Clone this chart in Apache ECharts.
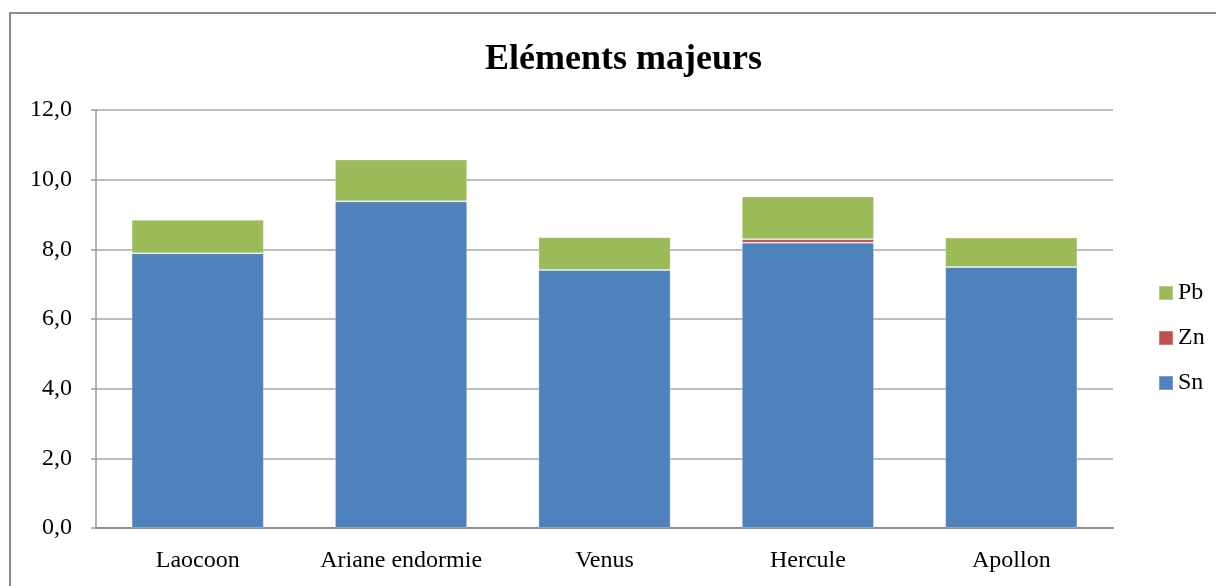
<!DOCTYPE html>
<html>
<head>
<meta charset="utf-8">
<script src="https://cdn.jsdelivr.net/npm/echarts@6/dist/echarts.min.js"></script>
<style>
  html, body { margin: 0; padding: 0; background: #fff; }
  #chart { width: 1216px; height: 586px; }
</style>
</head>
<body>
<div id="chart"></div>
<script>
// Composition of bronze statues: stacked contents per statue
const categories = ['Laocoon', 'Ariane endormie', 'Venus', 'Hercule', 'Apollon'];
const snValues = [7.89, 9.38, 7.41, 8.19, 7.49];
const znValues = [0, 0, 0, 0.10, 0];
const pbValues = [0.96, 1.20, 0.94, 1.23, 0.85];
const yTicks = { min: 0, max: 12, interval: 2 };

const serif = '"Liberation Serif", "Times New Roman", serif';

const chart = echarts.init(document.getElementById('chart'));

function stackSeries(name, data, color) {
  return {
    name: name,
    type: 'bar',
    stack: 'total',
    data: data,
    barCategoryGap: '35%',
    itemStyle: { color: color, borderColor: 'rgba(255,255,255,0.25)', borderWidth: 1 },
    emphasis: { disabled: true }
  };
}

chart.setOption({
  animation: false,
  backgroundColor: '#fff',
  title: {
    text: 'Eléments majeurs',
    left: 480,
    top: 37,
    textStyle: { fontFamily: serif, fontSize: 36, fontWeight: 'bold', color: '#000' }
  },
  graphic: [{
    type: 'rect',
    shape: { x: 10, y: 13, width: 1240, height: 620 },
    style: { fill: 'none', stroke: '#8c8c8c', lineWidth: 2 },
    silent: true
  }],
  legend: {
    orient: 'vertical',
    left: 1153,
    top: 276,
    itemWidth: 14,
    itemHeight: 14,
    itemGap: 21,
    icon: 'rect',
    data: ['Pb', 'Zn', 'Sn'],
    textStyle: { fontFamily: serif, fontSize: 24, color: '#000', padding: [0, 0, 0, 0] }
  },
  grid: { left: 96, right: 103, top: 110, bottom: 58, containLabel: false },
  xAxis: {
    type: 'category',
    data: categories,
    axisLine: { lineStyle: { color: '#8c8c8c', width: 2 } },
    axisTick: { show: false },
    axisLabel: { interval: 0, hideOverlap: false, fontFamily: serif, fontSize: 24, color: '#000', margin: 21 }
  },
  yAxis: {
    type: 'value',
    min: yTicks.min,
    max: yTicks.max,
    interval: yTicks.interval,
    axisLine: { show: true, lineStyle: { color: '#9a9a9a', width: 1.5 } },
    axisTick: { show: true, length: 5, lineStyle: { color: '#9a9a9a', width: 1.5 } },
    axisLabel: {
      fontFamily: serif, fontSize: 24, color: '#000', margin: 24,
      formatter: v => v.toFixed(1).replace('.', ',')
    },
    splitLine: { lineStyle: { color: '#a6a6a6', width: 1.5 } }
  },
  series: [
    stackSeries('Sn', snValues, '#4F81BD'),
    stackSeries('Zn', znValues, '#C0504D'),
    stackSeries('Pb', pbValues, '#9BBB59')
  ]
});
</script>
</body>
</html>
